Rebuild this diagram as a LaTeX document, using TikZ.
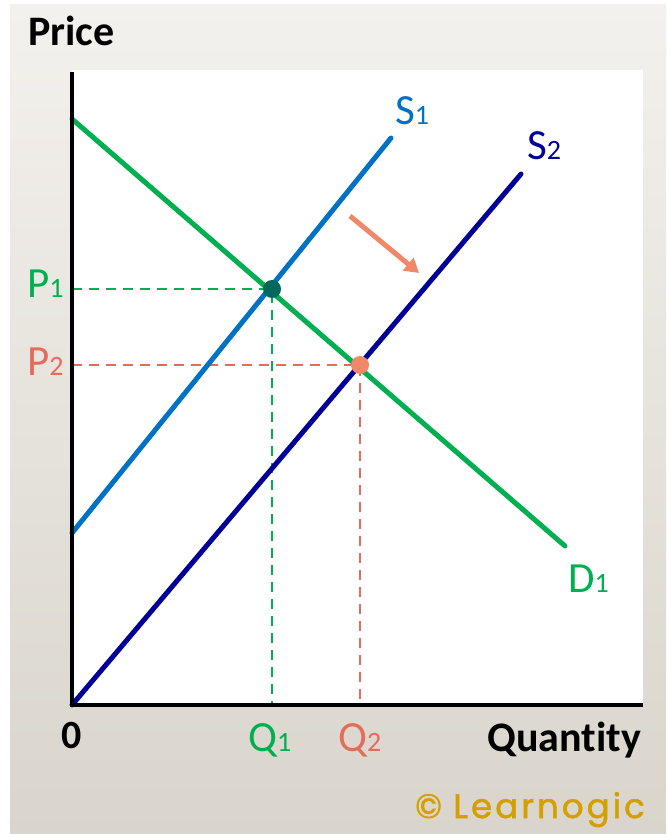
\documentclass[tikz,border=0pt]{standalone}
\usepackage{fontspec}
\setmainfont[Ligatures=NoCommon]{Carlito}
\newfontfamily\logofont[FakeBold=1.6,LetterSpace=9]{Poppins}
\usetikzlibrary{arrows.meta}

\definecolor{dgreen}{RGB}{0,176,80}
\definecolor{sblue}{RGB}{0,114,198}
\definecolor{snavy}{RGB}{0,0,150}
\definecolor{salmon}{RGB}{228,108,92}
\definecolor{shiftcol}{RGB}{240,135,105}
\definecolor{eqteal}{RGB}{0,104,90}
\definecolor{eqsalmon}{RGB}{240,135,105}
\definecolor{logogold}{RGB}{212,160,0}
\definecolor{frametop}{RGB}{243,241,237}
\definecolor{framebot}{RGB}{217,213,204}

\newcommand{\lsub}[1]{{\fontsize{28}{28}\selectfont #1}}

\tikzset{
  lbl/.style={font=\fontsize{43}{43}\selectfont,anchor=base west,inner sep=0pt},
  curve/.style={line width=5pt,line cap=round},
  guide/.style={line width=2.8pt,dash pattern=on 10pt off 7pt},
  dot/.style={circle,inner sep=0pt,minimum size=18pt}
}

\begin{document}
\begin{tikzpicture}[x=1pt,y=-1pt]
\useasboundingbox (0,0) rectangle (666,834);
\shade[top color=frametop,bottom color=framebot] (10,5) rectangle (666,834);
\fill[white] (72,70) rectangle (643,705);

% points
\coordinate (o) at (72,705);
\coordinate (ytop) at (72,72);
\coordinate (xend) at (643,705);
\coordinate (d0) at (72,119);
\coordinate (d1) at (565,546);
\coordinate (s10) at (72,533);
\coordinate (s11) at (391,138);
\coordinate (s20) at (72,705);
\coordinate (s21) at (521,174);
\coordinate (e1) at (272,289);
\coordinate (e2) at (360,365);
\coordinate (ap1) at (72,289);
\coordinate (ap2) at (72,365);
\coordinate (bq1) at (272,705);
\coordinate (bq2) at (360,705);
\coordinate (sh0) at (350,216);
\coordinate (sh1) at (419,273);

% guides
\draw[guide,dgreen] (ap1) -- (e1) -- (bq1);
\draw[guide,salmon] (ap2) -- (e2) -- (bq2);

% curves
\draw[curve,dgreen] (d0) -- (d1);
\draw[curve,sblue] (s10) -- (s11);
\draw[curve,snavy] (s20) -- (s21);
\draw[line width=4pt] (ytop) -- (o) -- (xend);

\node[dot,fill=eqteal] (eq1) at (e1) {};
\node[dot,fill=eqsalmon] (eq2) at (e2) {};
\draw[line width=5pt,shiftcol,-{Triangle[length=14pt,width=16pt]}] (sh0) -- (sh1);

% labels
\node[lbl,font=\fontsize{42}{42}\selectfont\bfseries] (price) at (28,46) {Price};
\node[lbl,text=dgreen] (p1) at (27,297) {P\lsub{1}};
\node[lbl,text=salmon] (p2) at (27,375) {P\lsub{2}};
\node[lbl,anchor=base,font=\fontsize{40}{40}\selectfont\bfseries] (zero) at (72,748) {0};
\node[lbl,text=dgreen] (q1) at (248,751) {Q\lsub{1}};
\node[lbl,text=salmon] (q2) at (338,751) {Q\lsub{2}};
\node[lbl,anchor=base east,font=\fontsize{42}{42}\selectfont\bfseries] (qty) at (641,751) {Quantity};
\node[lbl,text=sblue] (s1) at (395,125) {S\lsub{1}};
\node[lbl,text=snavy] (s2) at (527,160) {S\lsub{2}};
\node[lbl,text=dgreen] (dd1) at (568,592) {D\lsub{1}};
\node[lbl,anchor=base east,text=logogold,font=\logofont\fontsize{34}{34}\selectfont] (logo) at (645,818) {©\,\,Learnogic};
\end{tikzpicture}
\end{document}
